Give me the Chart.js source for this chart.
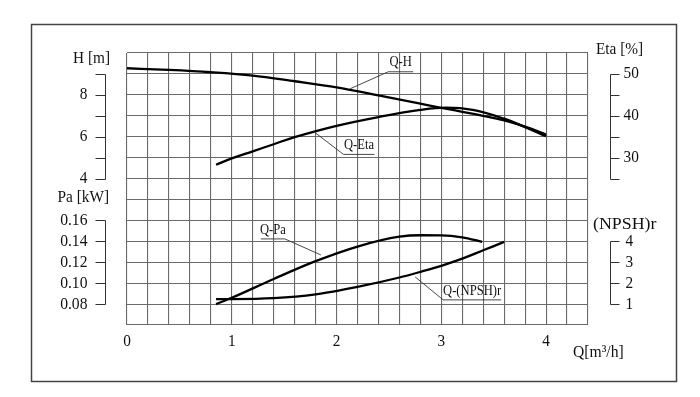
<!DOCTYPE html>
<html>
<head>
<meta charset="utf-8">
<script src="https://cdn.jsdelivr.net/npm/chart.js@4.4.1/dist/chart.umd.min.js"></script>
<style>
  html, body { margin: 0; padding: 0; background: #fff; }
</style>
</head>
<body>
<canvas id="mycanvas" width="700" height="397"></canvas>
<script>
// curves, Q in m3/h
var qHead = [0, 0.4, 0.8, 1.2, 1.6, 2.0, 2.4, 2.8, 3.0, 3.2, 3.4, 3.6, 3.8, 4.0];
var head = [9.27, 9.19, 9.08, 8.92, 8.65, 8.36, 7.98, 7.58, 7.38, 7.19, 7.0, 6.78, 6.48, 6.1];

var qEta = [0.85, 1.0, 1.2, 1.4, 1.6, 2.0, 2.4, 2.8, 3.05, 3.3, 3.6, 3.8, 4.0];
var eta = [28.3, 29.8, 31.5, 33.2, 34.9, 37.6, 39.7, 41.4, 41.95, 41.4, 39.3, 37.3, 35.1];

var qPa = [0.85, 1.0, 1.4, 1.8, 2.2, 2.6, 2.8, 3.0, 3.2, 3.39];
var power = [0.080, 0.086, 0.104, 0.121, 0.135, 0.1444, 0.1458, 0.1457, 0.1438, 0.1395];

var qNpsh = [0.85, 1.0, 1.4, 1.8, 2.2, 2.6, 2.8, 3.0, 3.2, 3.4, 3.6];
var npsh = [1.24, 1.24, 1.28, 1.46, 1.82, 2.27, 2.54, 2.83, 3.17, 3.57, 3.97];

// axis ticks
var qLabels = [0, 1, 2, 3, 4];
var headMarks = [4, 5, 6, 7, 8, 9];
var headLabels = [4, 6, 8];
var powerMarks = [0.08, 0.10, 0.12, 0.14, 0.16];
var powerLabels = ['0.08', '0.10', '0.12', '0.14', '0.16'];
var etaMarks = [25, 30, 35, 40, 45, 50];
var etaLabels = [30, 40, 50];
var npshMarks = [1, 2, 3, 4];
var npshLabels = [1, 2, 3, 4];

function pts(xs, ys) {
  var out = [];
  for (var i in xs) out.push({x: xs[i], y: ys[i]});
  return out;
}

// callouts: where the leader touches the curve, then the offset to the underline
var notes = [
  {text: 'Q-H', axis: 'yH', q: 2.13, v: 8.29, dx: 38, dy: -17, len: 25},
  {text: 'Q-Eta', axis: 'yEta', q: 1.78, v: 36.26, dx: 30, dy: 23, len: 31},
  {text: 'Q-Pa', axis: 'yPa', q: 1.85, v: 0.127, dx: -36, dy: -16, len: -24},
  {text: 'Q-(NPSH)r', axis: 'yNpsh', q: 2.75, v: 2.3, dx: 28, dy: 23, len: 58}
];

var FONT = '"Liberation Serif", "DejaVu Serif", serif';

function txt(ctx, str, x, y, align, size, sx) {
  ctx.save();
  ctx.font = size + 'px ' + FONT;
  ctx.translate(x, y);
  ctx.scale(sx, 1);
  ctx.textAlign = align;
  ctx.textBaseline = 'middle';
  ctx.fillStyle = '#111';
  ctx.fillText(str, 0, 0);
  ctx.restore();
}

function bracket(ctx, scale, marks, xLine, xTick) {
  var top = Math.round(scale.getPixelForValue(marks[marks.length - 1])) + 0.5;
  var bot = Math.round(scale.getPixelForValue(marks[0])) + 0.5;
  ctx.beginPath();
  ctx.moveTo(xLine, top);
  ctx.lineTo(xLine, bot);
  for (var i in marks) {
    var y = Math.round(scale.getPixelForValue(marks[i])) + 0.5;
    ctx.moveTo(xLine, y);
    ctx.lineTo(xTick, y);
  }
  ctx.stroke();
}

var sheetPlugin = {
  id: 'sheet',
  beforeDraw: function(chart) {
    var ctx = chart.ctx;
    ctx.save();
    ctx.fillStyle = '#fff';
    ctx.fillRect(0, 0, chart.width, chart.height);
    ctx.restore();
  },
  afterDraw: function(chart) {
    var ctx = chart.ctx, s = chart.scales, a = chart.chartArea;
    ctx.save();

    // outer frame
    ctx.strokeStyle = '#444';
    ctx.lineWidth = 1.5;
    ctx.strokeRect(31.5, 24.5, 645, 357);

    // floating axes
    ctx.strokeStyle = '#333';
    ctx.lineWidth = 1;
    var lx = Math.round(a.left - 22) + 0.5;
    var rx = Math.round(a.right + 22) + 0.5;
    bracket(ctx, s.yH, headMarks, lx, lx - 10);
    bracket(ctx, s.yPa, powerMarks, lx, lx - 10);
    bracket(ctx, s.yEta, etaMarks, rx, rx + 9);
    bracket(ctx, s.yNpsh, npshMarks, rx, rx + 9);

    for (var i in headLabels)
      txt(ctx, String(headLabels[i]), lx - 18, s.yH.getPixelForValue(headLabels[i]), 'right', 17, 0.9);
    for (var i in powerMarks)
      txt(ctx, powerLabels[i], lx - 18, s.yPa.getPixelForValue(powerMarks[i]), 'right', 17, 0.92);
    for (var i in etaLabels)
      txt(ctx, String(etaLabels[i]), rx + 13, s.yEta.getPixelForValue(etaLabels[i]), 'left', 17, 0.9);
    for (var i in npshLabels)
      txt(ctx, String(npshLabels[i]), rx + 15, s.yNpsh.getPixelForValue(npshMarks[i]), 'left', 17, 0.9);
    for (var i in qLabels)
      txt(ctx, String(qLabels[i]), s.x.getPixelForValue(qLabels[i]), a.bottom + 17, 'center', 17, 0.9);

    txt(ctx, 'H [m]', a.left - 17, 59, 'right', 17, 0.9);
    txt(ctx, 'Pa [kW]', a.left - 18, 198, 'right', 17, 0.9);
    txt(ctx, 'Eta [%]', a.right + 8, 50, 'left', 17, 0.9);
    txt(ctx, '(NPSH)r', a.right + 5, 225, 'left', 17, 1.05);
    txt(ctx, 'Q[m\u00b3/h]', a.right - 15, 353, 'left', 17, 0.92);

    // callouts
    ctx.strokeStyle = '#333';
    ctx.lineWidth = 0.9;
    for (var i in notes) {
      var n = notes[i];
      var px = s.x.getPixelForValue(n.q), py = s[n.axis].getPixelForValue(n.v);
      var jx = px + n.dx, jy = py + n.dy;
      ctx.beginPath();
      ctx.moveTo(px, py);
      ctx.lineTo(jx, jy);
      ctx.lineTo(jx + n.len, jy);
      ctx.stroke();
      txt(ctx, n.text, jx + n.len / 2, jy - 9, 'center', 14, 0.9);
    }
    ctx.restore();
  }
};

var curve = function(data, axis, smooth) {
  var ds = {
    data: data,
    yAxisID: axis,
    borderColor: '#000',
    borderWidth: 2.3,
    pointRadius: 0,
    fill: false
  };
  if (smooth) ds.tension = smooth;
  else ds.cubicInterpolationMode = 'monotone';
  return ds;
};

var grid = {color: '#6a6a6a', lineWidth: 1.1, drawTicks: false};

new Chart(document.getElementById('mycanvas'), {
  type: 'line',
  data: {
    datasets: [
      curve(pts(qHead, head), 'yH'),
      curve(pts(qEta, eta), 'yEta', 0.4),
      curve(pts(qPa, power), 'yPa'),
      curve(pts(qNpsh, npsh), 'yNpsh')
    ]
  },
  options: {
    responsive: false,
    animation: false,
    events: [],
    layout: {padding: {left: 127, right: 112, top: 53, bottom: 72}},
    plugins: {legend: {display: false}, tooltip: {enabled: false}},
    scales: {
      x: {
        type: 'linear', min: 0, max: 4.4,
        ticks: {display: false, stepSize: 0.2},
        grid: grid,
        border: {display: false}
      },
      yH: {
        position: 'left', min: -3, max: 10,
        ticks: {display: false, stepSize: 1},
        grid: grid,
        border: {display: false}
      },
      yEta: {position: 'right', min: -10, max: 55, display: false},
      yPa: {position: 'left', min: 0.06, max: 0.32, display: false},
      yNpsh: {position: 'right', min: 0, max: 13, display: false}
    }
  },
  plugins: [sheetPlugin]
});
</script>
</body>
</html>
